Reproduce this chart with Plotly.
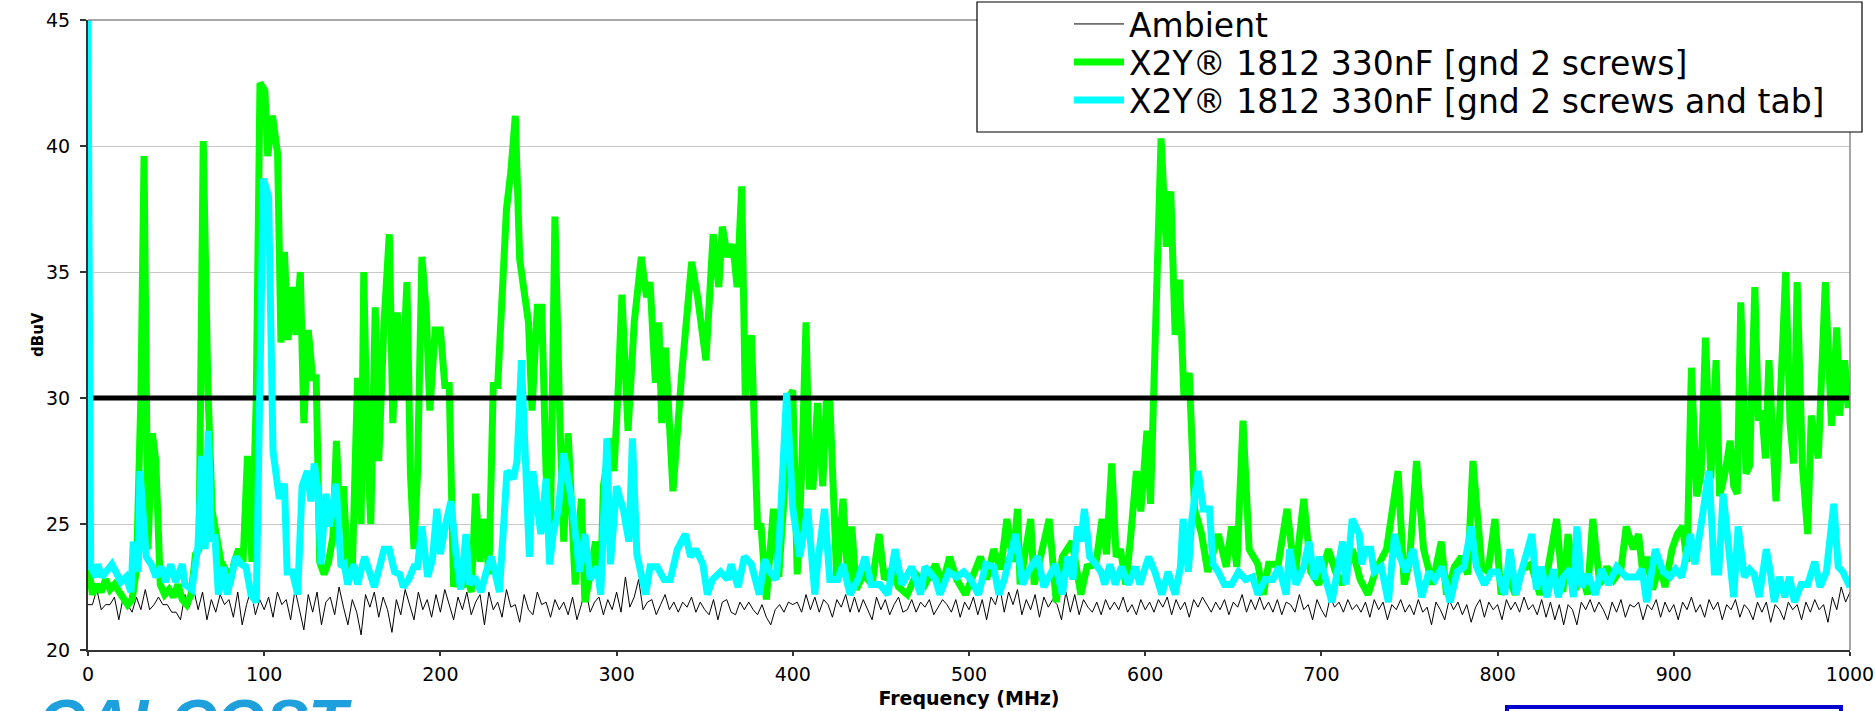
import plotly.graph_objects as go

# ---------------- data ----------------
ambient_step = 2.5
ambient_db = [
    21.8,21.8,22.4,21.6,21.8,21.8,22.1,21.2,22.1,21.8,21.5,22.1,21.6,22.4,21.6,21.8,22.1,21.8,21.8,21.5,
    21.5,21.2,22.2,21.7,22.4,21.6,22.3,21.2,22.0,21.5,22.2,21.8,22.0,21.3,22.3,21.0,21.8,22.4,21.4,22.0,
    21.6,22.1,21.3,22.3,21.8,22.0,21.2,22.4,21.6,20.8,22.2,21.5,22.3,21.0,21.9,22.1,21.4,22.5,21.7,21.0,
    22.0,21.5,20.6,22.2,21.7,22.3,21.3,22.1,21.6,20.7,22.0,21.4,22.4,21.8,21.2,22.3,21.6,22.0,21.3,22.2,
    21.5,22.4,21.8,21.2,22.1,21.6,22.3,21.4,21.9,22.2,21.0,22.3,21.6,21.9,21.3,22.4,21.7,21.8,21.1,22.2,
    21.6,21.4,22.3,21.8,21.9,21.3,22.0,21.6,21.9,21.4,22.1,21.2,21.8,22.4,21.5,21.9,22.1,21.4,22.0,21.6,
    22.3,21.5,22.9,21.7,22.1,22.8,21.6,21.9,22.0,21.4,21.8,22.2,21.6,21.9,21.5,21.9,21.7,22.1,21.5,21.9,
    21.6,21.4,22.0,21.2,21.9,22.0,21.5,21.4,21.9,21.6,21.9,21.6,21.4,21.8,21.3,21.0,21.6,21.8,21.5,21.9,
    21.8,21.9,21.5,22.2,21.6,22.1,21.5,22.0,21.8,21.3,22.0,21.7,22.2,21.5,22.1,21.5,22.0,21.6,21.2,22.1,
    21.6,22.0,21.4,21.8,22.1,21.5,21.6,22.0,21.5,21.9,21.7,22.0,21.4,21.7,22.0,21.8,21.5,22.0,21.3,21.9,
    21.6,22.1,21.4,22.0,21.2,22.1,21.8,22.5,21.5,22.3,21.8,22.4,21.4,22.0,21.6,22.2,21.3,22.1,21.7,22.0,
    21.8,21.2,22.3,21.5,22.2,21.4,22.0,21.7,21.5,21.9,21.4,22.0,21.6,21.9,21.6,22.1,21.5,21.8,21.4,22.0,
    21.6,21.9,21.5,22.0,21.7,22.1,21.4,22.0,21.6,21.9,21.3,22.0,21.7,22.1,21.8,21.5,21.9,21.6,22.0,21.4,
    21.9,21.7,22.2,21.5,22.0,21.6,22.1,21.6,21.9,21.5,22.0,21.4,21.9,21.8,21.5,22.2,21.6,21.8,21.2,22.0,
    21.6,21.3,22.1,21.7,21.9,21.5,22.0,21.6,21.8,21.5,21.9,21.3,22.0,21.6,21.9,21.2,21.8,21.6,22.0,21.5,
    21.8,21.4,22.0,21.5,21.7,21.0,21.9,21.6,21.2,22.0,21.6,21.9,21.4,21.8,21.1,21.7,22.0,21.3,21.9,21.6,
    21.8,21.2,22.0,21.6,21.9,21.5,22.1,21.6,21.8,21.4,22.0,21.3,21.9,21.2,21.8,21.0,21.8,21.6,21.0,21.9,
    21.6,22.0,21.5,21.9,21.6,21.2,21.9,21.5,22.0,21.3,21.8,21.7,21.9,21.2,21.8,21.6,22.0,21.3,21.9,21.5,
    21.8,21.2,21.9,21.6,22.1,21.5,21.8,21.3,22.0,21.6,21.9,21.2,21.8,21.6,22.0,21.3,21.8,21.6,21.2,21.9,
    21.5,21.9,21.1,21.8,21.6,21.2,21.9,21.6,21.8,21.2,21.9,21.5,22.0,21.6,21.8,21.1,22.1,21.6,22.5,21.9,
    22.3,
]
ambient_mhz = [i * ambient_step for i in range(len(ambient_db))]

screws_mhz = [
    0,2.5,5,7.5,10,12.5,15,17.5,20,22.5,25,27.5,30,31.8,34,36.5,38.5,41,43.5,46,48.5,51,53.5,56,58.5,61,63,65.4,68,70.5,
    73,75.5,78,80.5,83,85.5,88,90.5,93,95.5,97.6,100.4,102,104.7,107.6,109.5,111.5,113.5,116,118,120.5,122.5,125,127.5,129.5,
    131.5,134,136.5,139,141,143,145,147.5,150,153,155,156.5,158.5,160.5,163,165,168,171,173,175.5,178,181,183,185,187,189.5,
    192,194,197,200,202.5,205,207.5,210,212.5,215,217.5,220,222.5,225,227.5,230,232.5,235,237.5,240,242.5,245,247.5,250,252,
    255,257.5,260,262.5,265,267.5,270,272.5,276.5,280,282,285,288,291,292.5,296.5,298.5,301,303,306.5,310,314,317,319,322,
    324,325.6,327.7,332,337,342.6,346,350.7,354.8,358,360,363,366,368.4,371,373,376.5,380,382,385,389,392,395,397.5,400,
    402.5,405,407.5,409.5,411.5,414,417,419,421,425,428.5,431.5,433.5,436,440,445,449,452,456,460,465,470,475,481,485,489,
    493,498,502,506.5,510,514,518,521.5,525,527.5,529,532,535,537,541,545.5,549.5,553,558.5,563.5,567,572,575.5,578,581,
    583.5,586,589,591.5,595,597.5,601,603,606,609,612,614.5,617,619.5,622,625,628,632,635.5,641.5,646,649,652,655.5,659,
    664,667,670,675.5,680.5,685,690,694,698.5,704,708,712,717.5,722,726.5,731,737,743.5,747,750,754,758,763,768,771,775.5,
    779.5,783,786,791,794.5,798.5,802,806,810,814,819,824,828,833.5,837,840,844,848,851,854,858,862,866,870,873,877,880,
    882.5,885,888,892,895,899,902,905,907.5,910,913,915.5,918,921,924,926,929,932,934,936,938,941,943,946,948,950,952,954,
    958,963.5,966,968,970,973,976,978,982,986,989.5,992.5,994,997,999,1000,
]
screws_db = [
    23.5,22.2,22.6,22.3,22.8,22.4,22.6,22.3,22.0,21.8,22.0,23.2,30.0,39.6,24.0,28.6,27.5,22.6,22.2,22.4,22.1,22.6,22.0,21.8,22.2,23.8,24.0,40.2,30.5,25.5,
    24.5,23.5,23.2,22.6,23.5,24.0,23.5,27.7,23.5,30.0,42.5,42.2,39.6,41.2,39.7,32.2,35.8,32.3,34.4,32.5,35.0,29.0,32.7,30.8,30.8,
    23.5,23.0,23.5,24.5,28.3,25.0,26.5,23.0,23.2,30.8,25.0,35.0,28.0,25.0,33.6,27.5,33.0,36.5,29.0,33.4,30.0,34.6,27.0,24.0,27.0,35.6,
    33.4,29.5,32.7,32.7,30.5,30.5,22.5,23.5,22.5,23.0,22.3,26.2,23.5,25.2,23.0,30.5,30.5,34.0,37.5,39.0,41.2,35.5,34.0,33.0,29.5,
    33.6,33.6,27.0,25.0,37.2,29.8,24.3,28.6,22.6,26.0,21.9,23.0,24.3,22.6,26.5,28.4,27.1,30.5,34.1,28.7,33.0,35.6,34.0,34.6,30.6,
    33.0,29.0,32.0,26.3,31.0,35.4,34.0,31.5,36.5,34.4,36.8,35.6,36.1,34.4,38.4,30.1,32.5,24.9,24.9,22.0,25.6,22.9,26.0,30.0,30.3,
    23.0,27.0,33.0,26.5,26.5,29.8,26.5,29.8,29.9,22.7,26.0,22.5,24.9,22.4,23.0,22.6,24.6,22.8,23.2,22.5,22.2,23.0,22.6,23.4,22.6,23.7,
    22.8,22.2,23.0,23.7,22.8,24.0,23.2,25.2,23.5,25.6,22.6,24.0,25.2,22.6,23.7,25.2,21.9,23.7,24.3,22.2,23.3,23.4,25.2,23.8,27.4,
    23.7,24.0,22.6,24.3,27.1,25.5,28.7,25.8,33.5,40.3,36.0,38.2,32.5,34.7,30.0,31.0,25.6,24.6,23.1,24.6,23.3,24.9,23.3,29.1,24.0,
    23.4,22.2,23.4,23.4,25.6,22.9,26.0,23.1,22.6,24.0,23.1,22.6,24.0,22.8,22.2,23.2,24.0,27.1,22.6,23.5,27.5,24.0,22.6,24.3,22.2,23.3,
    23.7,23.0,27.5,23.3,23.1,25.2,22.2,23.0,22.2,23.2,23.4,22.2,23.0,25.2,22.3,24.6,22.4,23.0,22.2,25.2,22.6,23.3,22.8,23.2,24.9,24.0,24.6,
    23.0,23.7,22.4,23.4,22.5,24.0,24.6,24.9,23.5,31.2,26.1,27.0,32.4,26.8,31.5,26.1,27.0,28.3,26.5,26.2,33.8,27.0,27.3,34.4,29.1,29.5,27.6,31.5,
    25.9,35.0,29.0,27.4,34.6,27.3,24.6,29.3,27.6,34.6,28.9,32.8,29.3,31.5,29.6,30.6,
]

tab_mhz = [
    0,1.5,4.5,5.5,8,13.6,18.7,21.6,24.4,25.7,28.5,29.5,33,35.9,38.6,41.5,44,47,49.7,53.5,55,59,62.4,64.6,66.5,68.3,70,72,74,77,
    79,81.5,84,87,89.7,92.5,95.5,99.5,102.5,105,108.6,111.5,113,116,119,121.5,124.5,126.5,128.4,130.5,132.2,135,137,140.8,143.6,
    145.5,147.4,151,153,157,160,162.5,165.5,168,171,174,177,179,182,185,187,189.5,192.8,195.5,198,200,203,206,209,211.5,214.5,
    216.5,219.5,223,226,229,233.5,237.8,241.5,243.5,246,248.5,250.5,252.5,257,260,262,264,267,270,274.5,279,282,285,289,291,
    294.5,296.5,300,304,307,309,311.5,316.5,319,323,327,330.5,334.5,339,342,345,349,351.5,354.5,359,363,365,369,372.5,376.5,
    381,384,387,390.5,392.5,396.5,400,404,408.5,412.5,414,418,421,425.5,428.5,432.5,437,441,444.5,449.5,454,458,462,467.5,
    472.5,475,481,483.5,488.5,493,497,501,505.5,509.5,514,517,520,526.5,530.5,533.5,539,542.5,549,553,556,559,561.5,563.5,
    565.5,568.5,572,575,577,580,583,586.5,590.5,594.5,597,602,605.5,609.5,613,617,620,621.5,624.5,626.5,630,633,636.5,638.5,
    641.5,645,649,653,657,661,664,668,672.5,676,680,682,685.5,690,693,696,699,703,706,709,712,714,717.5,721.5,723,725,728,
    730,734,738,741.5,744.5,748,752,757,761,764.5,768.5,773,777,781,785,788,792.5,796.5,800,804,807,810.5,813.5,817,819.5,
    822,825,828,831.7,834.5,837.4,841,843,845,847.8,851.5,855.5,859,863,867.6,873,879,882,884.6,889.5,894,898,901,904.5,
    909.5,912,916,920,923,925.5,928,932,934,936.5,940,943,945.7,948.5,952.5,955,957,960,963,965.7,968.5,972.3,976,980,983,
    986.6,990.8,993.3,996,1000,
]
tab_db = [
    45.0,23.3,22.9,23.4,22.9,23.4,22.7,22.9,22.3,24.3,23.1,27.1,23.7,23.4,22.9,23.3,22.7,23.4,22.7,23.4,22.6,22.4,24.1,27.7,24.0,28.7,24.3,24.6,22.2,23.3,
    22.2,23.1,23.7,23.4,23.3,22.2,21.9,38.7,38.0,27.9,26.0,26.6,23.1,23.1,22.2,26.5,27.1,25.9,27.4,26.3,23.4,26.2,24.9,26.6,23.3,
    23.4,22.6,23.4,22.6,23.7,22.9,22.5,23.3,24.0,24.0,23.1,23.0,22.5,22.8,23.3,23.3,24.9,22.9,23.6,25.6,23.8,25.0,25.9,23.7,22.4,24.6,
    22.6,22.9,22.3,23.1,23.7,22.3,27.1,26.8,27.5,31.5,27.0,23.7,27.1,24.6,26.8,23.4,24.6,25.6,27.8,25.9,23.1,24.6,22.8,23.3,22.2,
    28.4,23.4,26.5,25.5,24.3,28.4,23.8,22.2,23.3,23.3,22.8,22.8,24.0,24.6,23.7,24.0,23.4,22.2,22.8,23.1,22.8,23.4,22.5,23.7,23.4,
    22.2,23.6,23.1,22.8,24.6,30.2,25.6,23.7,25.6,22.2,23.4,25.6,22.8,22.8,23.4,22.2,22.8,23.7,22.6,22.6,22.2,24.0,22.6,23.3,
    22.2,23.3,22.8,22.2,23.1,22.9,23.1,22.8,22.2,23.4,23.3,22.2,22.8,24.6,22.6,23.1,23.7,22.5,23.4,22.2,23.7,22.8,24.9,24.3,
    25.6,23.7,23.4,23.1,22.6,23.4,22.6,23.3,22.6,23.3,22.6,23.7,23.1,22.2,23.1,22.2,23.3,25.2,23.1,25.2,27.1,25.6,25.6,23.4,
    23.1,22.6,22.6,23.1,22.8,22.9,22.2,22.8,22.8,23.3,22.2,24.0,22.6,23.3,24.3,22.8,23.7,22.7,21.9,23.1,24.3,22.6,25.2,24.6,23.4,24.0,24.0,
    23.1,23.3,21.9,24.6,23.7,23.1,24.0,22.1,23.1,22.8,23.3,21.9,23.1,23.3,24.9,23.3,22.6,23.1,23.1,22.2,24.0,22.2,23.1,24.0,24.6,
    22.4,23.3,22.1,23.2,22.1,22.9,23.2,22.1,24.9,22.5,23.0,22.2,23.2,22.6,23.3,22.9,22.9,23.2,21.9,24.0,23.1,22.9,23.2,22.9,
    24.6,23.4,25.2,27.1,23.1,23.1,26.2,23.1,22.1,24.9,22.9,23.2,23.0,22.1,24.0,23.0,21.9,22.9,22.1,22.9,21.9,22.6,22.6,23.5,22.5,
    23.1,25.8,23.3,23.1,22.5,
]

limit_mhz = [0, 1000]
limit_db = [30, 30]

x_ticks = [0, 100, 200, 300, 400, 500, 600, 700, 800, 900, 1000]
y_ticks = [20, 25, 30, 35, 40, 45]

names = ["Ambient", "X2Y\u00ae 1812 330nF [gnd 2 screws]", "X2Y\u00ae 1812 330nF [gnd 2 screws and tab]"]

# ---------------- figure ----------------
fig = go.Figure()
fig.add_trace(go.Scatter(x=ambient_mhz, y=ambient_db, mode="lines", name=names[0],
                         legend="legend", line=dict(color="black", width=1)))
fig.add_trace(go.Scatter(x=screws_mhz, y=screws_db, mode="lines", name=names[1],
                         legend="legend2", line=dict(color="#00ff00", width=7)))
fig.add_trace(go.Scatter(x=limit_mhz, y=limit_db, mode="lines", showlegend=False,
                         line=dict(color="black", width=5), hoverinfo="skip"))
fig.add_trace(go.Scatter(x=tab_mhz, y=tab_db, mode="lines", name=names[2],
                         legend="legend3", line=dict(color="#00ffff", width=7)))

W, H = 1875, 711
L, R, T, B = 88, 25, 20, 61
pw = W - L - R
ph = H - T - B

def px_x(px):
    return (px - L) / pw

def px_y(py):
    return (H - B - py) / ph

def legend_at(center_px):
    return dict(x=px_x(1069), y=px_y(center_px), xanchor="left", yanchor="middle",
                bgcolor="rgba(0,0,0,0)", borderwidth=0,
                font=dict(family="DejaVu Sans", size=33), itemwidth=50)

fig.update_layout(
    width=W, height=H,
    margin=dict(l=L, r=R, t=T, b=B, pad=0, autoexpand=False),
    paper_bgcolor="white", plot_bgcolor="white",
    font=dict(family="DejaVu Sans", color="black", size=19),
    xaxis=dict(range=[0, 1000], tickvals=x_ticks, ticks="outside", ticklen=4, tickwidth=1.5,
               tickcolor="#333", showline=True, linecolor="#333", linewidth=2, showgrid=False,
               zeroline=False, tickfont=dict(size=19), ticklabelstandoff=2, automargin=False,
               title=dict(text="<b>Frequency (MHz)</b>", font=dict(size=19), standoff=8)),
    yaxis=dict(range=[20, 45], tickvals=y_ticks, ticks="outside", ticklen=6, tickwidth=1.5,
               tickcolor="#333", showline=True, linecolor="#333", linewidth=2, showgrid=True,
               gridcolor="#c8c8c8", gridwidth=1, zeroline=False, tickfont=dict(size=19),
               ticklabelstandoff=6, automargin=False),
    legend=legend_at(24),
    legend2=legend_at(62),
    legend3=legend_at(100),
    showlegend=True,
)

shapes = [
    # plot-area border (top & right)
    dict(type="line", xref="paper", yref="paper", x0=0, x1=1, y0=1, y1=1,
         line=dict(color="#888", width=1.5), layer="above"),
    dict(type="line", xref="paper", yref="paper", x0=1, x1=1, y0=0, y1=1,
         line=dict(color="#888", width=1.5), layer="above"),
    # legend box
    dict(type="rect", xref="paper", yref="paper", x0=px_x(977), x1=px_x(1862),
         y0=px_y(132), y1=px_y(2), line=dict(color="black", width=1.2),
         fillcolor="white", layer="above"),
    # blue box bottom right
    dict(type="rect", xref="paper", yref="paper", x0=px_x(1507), x1=px_x(1841),
         y0=px_y(760), y1=px_y(707), line=dict(color="#0000cc", width=4),
         fillcolor="rgba(0,0,0,0)", layer="above"),
]
fig.update_layout(shapes=shapes)

# y-axis title
fig.add_annotation(xref="paper", yref="paper", x=px_x(38), y=0.5, xanchor="center",
                   yanchor="middle", text="<b>dBuV</b>", textangle=-90, showarrow=False,
                   font=dict(family="DejaVu Sans", size=15, color="black"))

# partially visible logo at the bottom edge
fig.add_annotation(xref="paper", yref="paper", x=px_x(36), y=px_y(685), xanchor="left",
                   yanchor="top", text="<b><i>CALCOST</i></b>", showarrow=False,
                   font=dict(family="Liberation Sans", size=64, color="#1ea0dc"))

fig.write_html("out.html")
